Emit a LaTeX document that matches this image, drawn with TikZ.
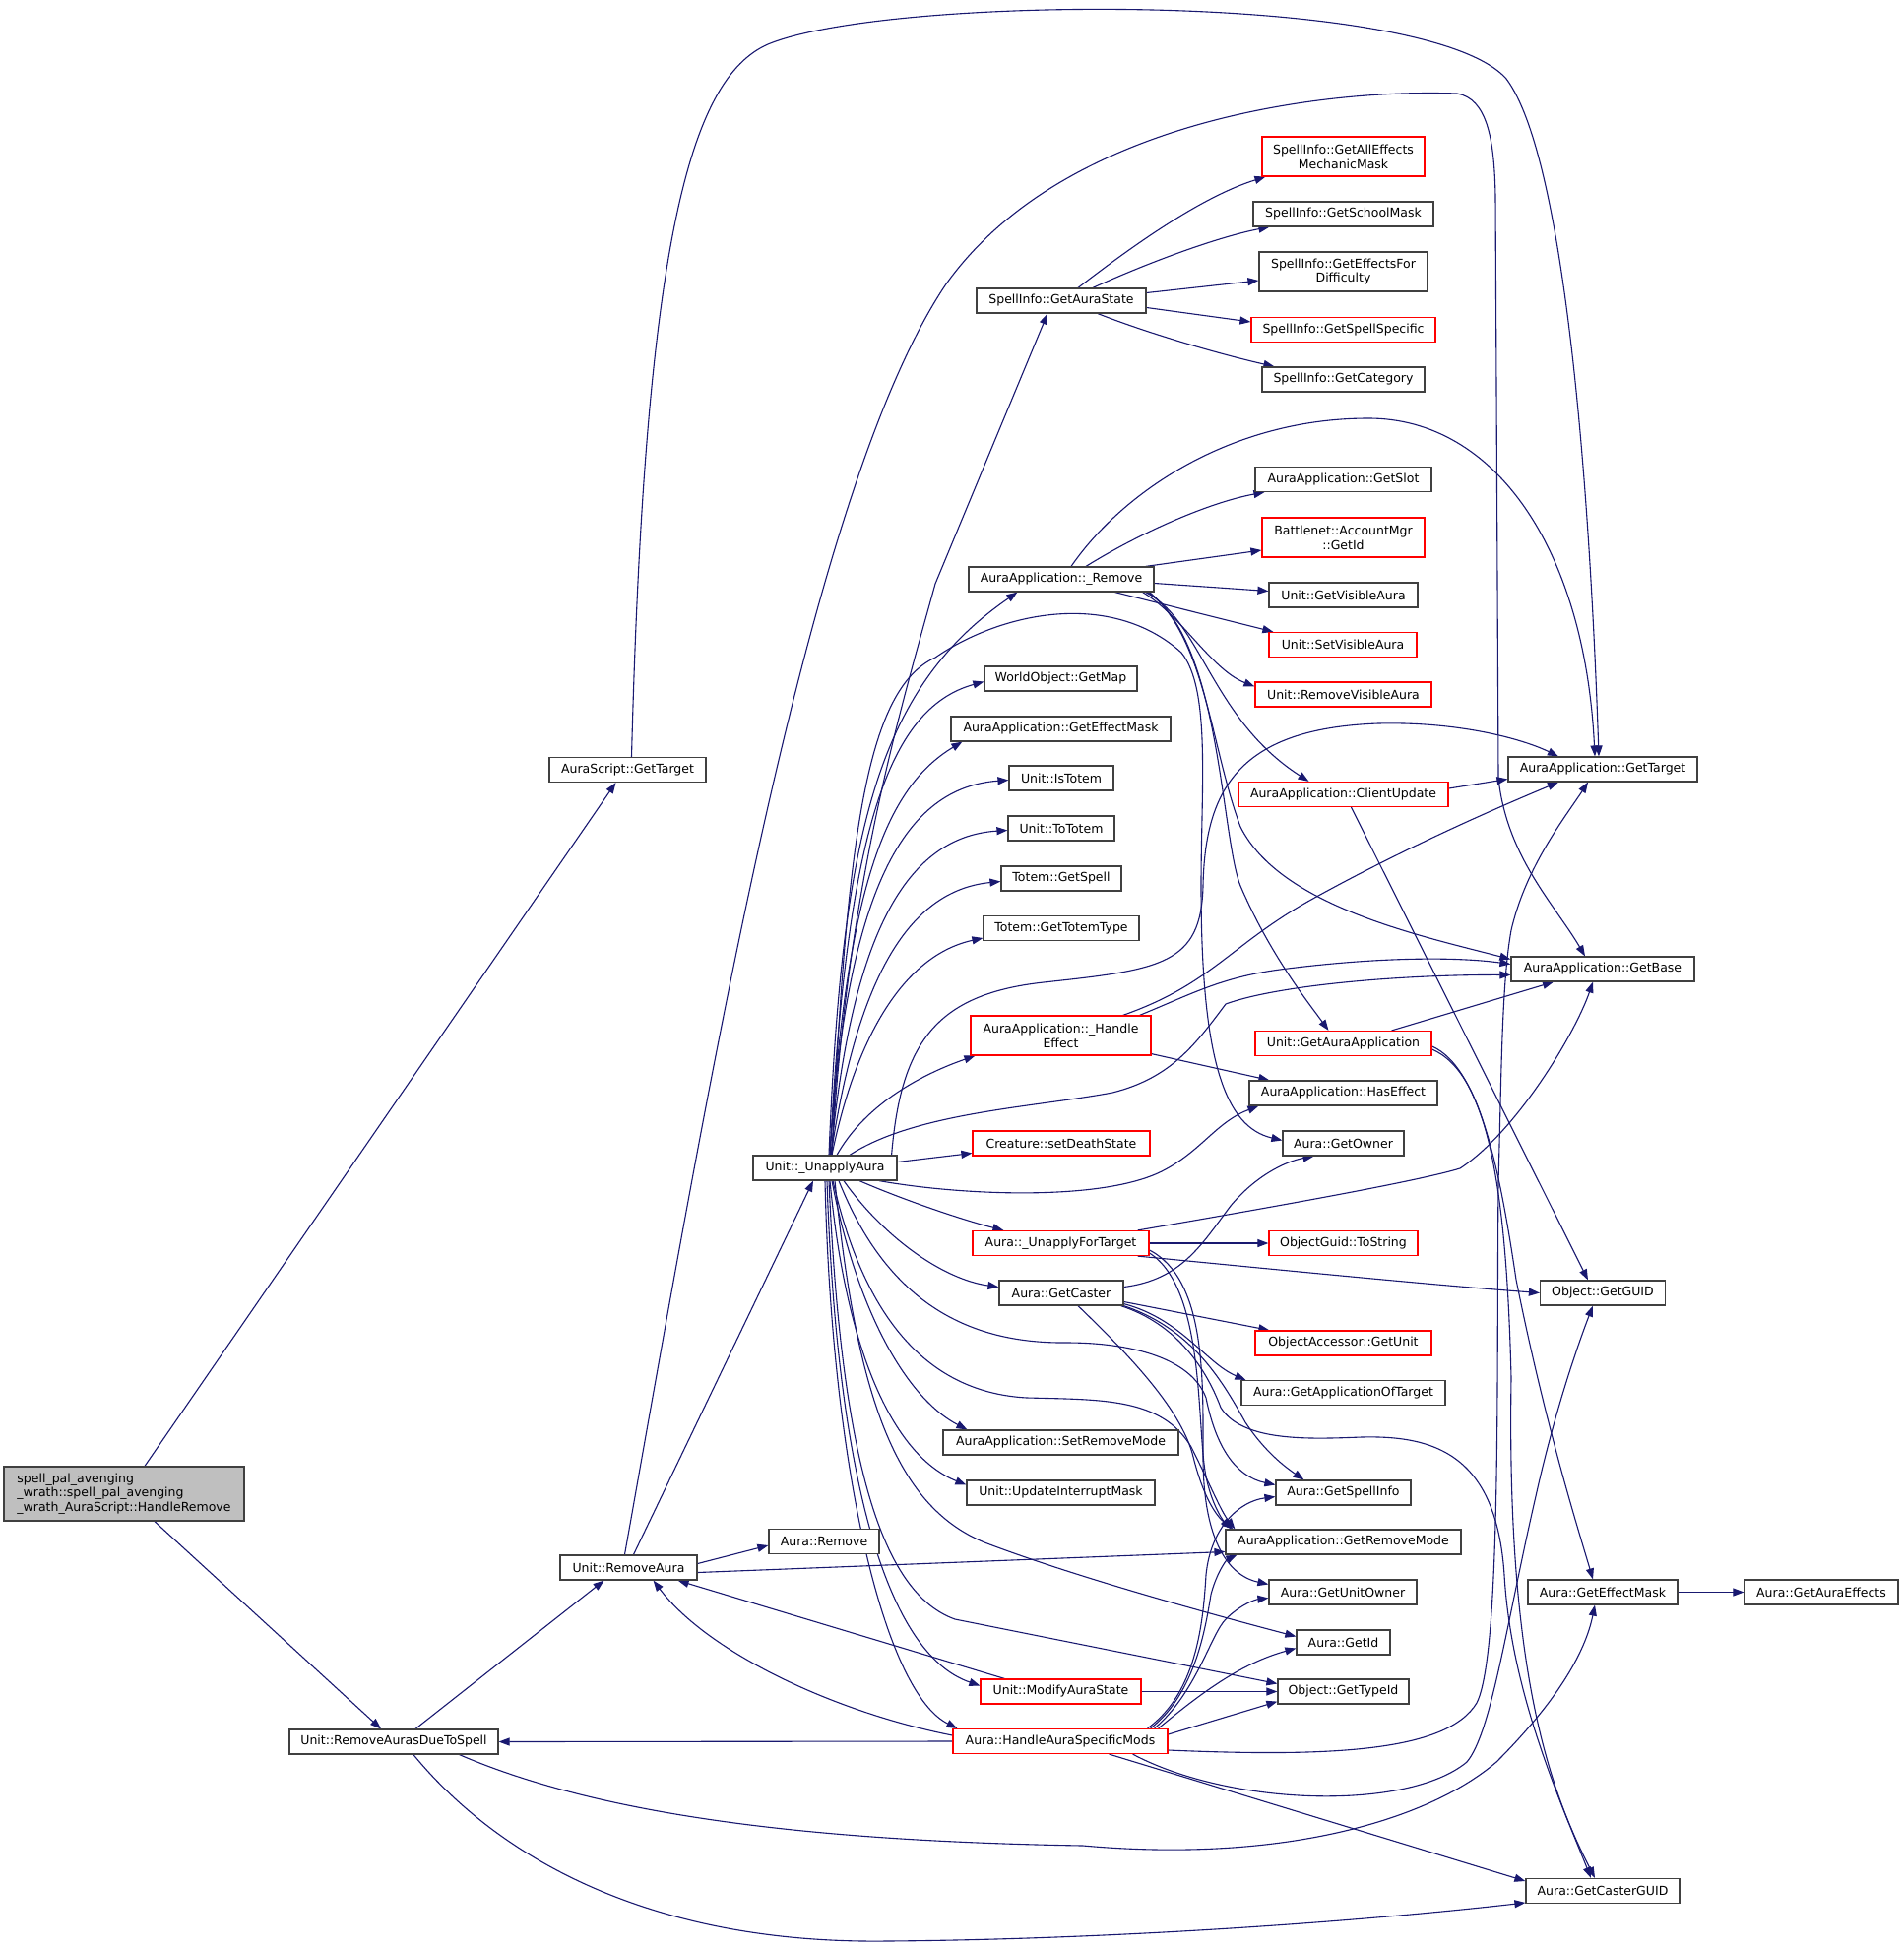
\documentclass[tikz,border=0pt]{standalone}
\usepackage{fontspec}
\newfontfamily\dvs{DejaVu Sans}
\usetikzlibrary{arrows.meta,calc}
\definecolor{edgec}{HTML}{191970}
\definecolor{boxgray}{HTML}{BFBFBF}
\definecolor{boxred}{HTML}{FF0000}
\definecolor{boxline}{HTML}{404040}
\pgfdeclarelayer{bg}
\pgfsetlayers{bg,main}
\tikzset{
  fn/.style={draw=boxline, line width=1.2pt, fill=white, inner sep=0pt, minimum height=25pt, font=\dvs\fontsize{12.5pt}{14.7pt}\selectfont, align=center},
  fnred/.style={fn, draw=boxred},
  bw/.style={minimum width=#1pt},
  two/.style={minimum height=40pt},
  link/.style={draw=edgec, line width=1.1pt, -{Triangle[length=11pt,width=8pt]}},
}
\begin{document}
\begin{tikzpicture}[x=1pt,y=-1pt]
\begin{pgfonlayer}{bg}
\fill[white] (0,0) rectangle (1933,1978);
\end{pgfonlayer}
\useasboundingbox (0,0) rectangle (1933,1978);

% ---- nodes
\node[fn, bw=244, minimum height=55pt, fill=boxgray, align=left, inner xsep=12pt] (main) at (126,1517.5) {spell\_pal\_avenging\\\_wrath::spell\_pal\_avenging\\\_wrath\_AuraScript::HandleRemove};
\node[fn, bw=212] (rads) at (400,1769.5) {Unit::RemoveAurasDueToSpell};
\node[fn, bw=159] (asgt) at (637.5,782) {AuraScript::GetTarget};
\node[fn, bw=139] (ra) at (638.5,1592.5) {Unit::RemoveAura};
\node[fn, bw=112] (arem) at (837,1566) {Aura::Remove};
\node[fn, bw=146] (ua) at (838,1186.5) {Unit::\_UnapplyAura};

\node[fn, bw=172] (gas) at (1078,305.5) {SpellInfo::GetAuraState};
\node[fn, bw=188] (arm) at (1078,588.5) {AuraApplication::\_Remove};
\node[fn, bw=155] (gmap) at (1077.5,689.5) {WorldObject::GetMap};
\node[fn, bw=223] (aaem) at (1077.5,740.5) {AuraApplication::GetEffectMask};
\node[fn, bw=106] (istot) at (1078,790.5) {Unit::IsTotem};
\node[fn, bw=108] (totot) at (1078,841.5) {Unit::ToTotem};
\node[fn, bw=122] (gspell) at (1078,892.5) {Totem::GetSpell};
\node[fn, bw=158] (gtt) at (1078,943) {Totem::GetTotemType};
\node[fnred, bw=183, two] (he) at (1077.5,1052) {AuraApplication::\_Handle\\Effect};
\node[fnred, bw=180] (cds) at (1078,1161.5) {Creature::setDeathState};
\node[fnred, bw=179] (uft) at (1077.5,1263) {Aura::\_UnapplyForTarget};
\node[fn, bw=126] (gc) at (1078,1313.5) {Aura::GetCaster};
\node[fn, bw=239] (srm) at (1077.5,1465.5) {AuraApplication::SetRemoveMode};
\node[fn, bw=191] (uim) at (1077.5,1516.5) {Unit::UpdateInterruptMask};
\node[fnred, bw=163] (mas) at (1077.5,1718.5) {Unit::ModifyAuraState};
\node[fnred, bw=218] (hasm) at (1077,1769) {Aura::HandleAuraSpecificMods};

\node[fnred, bw=165, two] (aem) at (1364.5,159) {SpellInfo::GetAllEffects\\MechanicMask};
\node[fn, bw=183] (gsm) at (1364.5,217.5) {SpellInfo::GetSchoolMask};
\node[fn, bw=171, two] (efd) at (1364.5,276) {SpellInfo::GetEffectsFor\\Difficulty};
\node[fnred, bw=187] (gss) at (1364.5,335) {SpellInfo::GetSpellSpecific};
\node[fn, bw=165] (gcat) at (1364.5,385.5) {SpellInfo::GetCategory};
\node[fn, bw=179] (gslot) at (1364.5,487) {AuraApplication::GetSlot};
\node[fnred, bw=165, two] (bnet) at (1364.5,546) {Battlenet::AccountMgr\\::GetId};
\node[fn, bw=151] (gva) at (1364.5,604.5) {Unit::GetVisibleAura};
\node[fnred, bw=150] (sva) at (1364,655) {Unit::SetVisibleAura};
\node[fnred, bw=179] (rva) at (1364.5,705.5) {Unit::RemoveVisibleAura};
\node[fnred, bw=213] (cu) at (1364.5,807) {AuraApplication::ClientUpdate};
\node[fnred, bw=179] (gaa) at (1364.5,1060) {Unit::GetAuraApplication};
\node[fn, bw=191] (hef) at (1364.5,1110.5) {AuraApplication::HasEffect};
\node[fn, bw=123] (gown) at (1364.5,1161.5) {Aura::GetOwner};
\node[fnred, bw=151] (tostr) at (1364.5,1263) {ObjectGuid::ToString};
\node[fnred, bw=179] (gunit) at (1364.5,1364.5) {ObjectAccessor::GetUnit};
\node[fn, bw=207] (gaot) at (1364.5,1415) {Aura::GetApplicationOfTarget};
\node[fn, bw=137] (gsi) at (1364.5,1516.5) {Aura::GetSpellInfo};
\node[fn, bw=239] (grm) at (1364.5,1566.5) {AuraApplication::GetRemoveMode};
\node[fn, bw=150] (guo) at (1364,1617.5) {Aura::GetUnitOwner};
\node[fn, bw=95] (gid) at (1364.5,1668.5) {Aura::GetId};
\node[fn, bw=133] (gtid) at (1364.5,1718.5) {Object::GetTypeId};

\node[fn, bw=192] (aagt) at (1628,781.5) {AuraApplication::GetTarget};
\node[fn, bw=186] (gbase) at (1628,984.5) {AuraApplication::GetBase};
\node[fn, bw=127] (guid) at (1628,1313.5) {Object::GetGUID};
\node[fn, bw=152] (gemask) at (1628,1617.5) {Aura::GetEffectMask};
\node[fn, bw=156] (ccguid) at (1628,1921) {Aura::GetCasterGUID};
\node[fn, bw=156] (gae) at (1850,1617.5) {Aura::GetAuraEffects};

% ---- connectors
\begin{pgfonlayer}{bg}
% main
\draw[link] ($(main.north)+(21,0)$) -- ($(asgt.south)+(-12,0)$);
\draw[link] ($(main.south)+(31,0)$) -- ($(rads.north)+(-13,0)$);
% AuraScript::GetTarget
\draw[link] ($(asgt.north)+(4,0)$) .. controls (655,250) and (700,80) .. (780,45) .. controls (900,-5) and (1450,-10) .. (1530,80) .. controls (1590,160) and (1615,500) .. ($(aagt.north)+(-4,0)$);
% RemoveAurasDueToSpell
\draw[link] ($(rads.north)+(22,0)$) -- ($(ra.south)+(-25,0)$);
\draw[link] ($(rads.south east)+(-40,0)$) .. controls (600,1840) and (800,1870) .. (1100,1875) .. controls (1300,1893) and (1450,1850) .. (1520,1790) .. controls (1580,1730) and (1610,1680) .. ($(gemask.south)+(-8,0)$);
\draw[link] ($(rads.south)+(20,0)$) .. controls (500,1880) and (650,1975) .. (900,1972) .. controls (1150,1970) and (1400,1950) .. ($(ccguid.west)+(0,12)$);
% RemoveAura
\draw[link] ($(ra.east)+(0,-4)$) -- ($(arem.west)+(0,4)$);
\draw[link] ($(ra.north)+(5,0)$) -- ($(ua.south)+(-12,0)$);
\draw[link] ($(ra.east)+(0,5)$) -- ($(grm.west)+(0,10)$);
\draw[link] ($(ra.north)+(-4,0)$) .. controls (720,1100) and (820,500) .. (960,290) .. controls (1080,120) and (1350,90) .. (1480,95) .. controls (1510,100) and (1518,140) .. (1519,200) -- (1522,790) .. controls (1530,870) and (1580,920) .. ($(gbase.north)+(-18,0)$);
% _UnapplyAura fan (top)
\draw[link] ($(ua.north)+(7,0)$) .. controls (860,900) and (915,720) .. (950,593) -- ($(gas.south)+(-14,0)$);
\draw[link] ($(ua.north)+(4,0)$) .. controls (855,850) and (890,700) .. ($(arm.south west)+(50,0)$);
\draw[link] ($(ua.north)+(5,0)$) .. controls (860,850) and (900,720) .. ($(gmap.west)+(0,3)$);
\draw[link] ($(ua.north)+(5,0)$) .. controls (860,900) and (900,800) .. ($(aaem.south west)+(12,0)$);
\draw[link] ($(ua.north)+(5,0)$) .. controls (860,900) and (920,800) .. ($(istot.west)+(0,2)$);
\draw[link] ($(ua.north)+(6,0)$) .. controls (865,950) and (920,850) .. ($(totot.west)+(0,2)$);
\draw[link] ($(ua.north)+(6,0)$) .. controls (870,1000) and (920,905) .. ($(gspell.west)+(0,3)$);
\draw[link] ($(ua.north)+(7,0)$) .. controls (870,1050) and (920,970) .. ($(gtt.west)+(0,10)$);
\draw[link] ($(ua.north)+(12,0)$) .. controls (880,1120) and (940,1090) .. ($(he.south west)+(5,0)$);
\draw[link] ($(ua.north)+(7,0)$) .. controls (860,850) and (880,700) .. (950,668) .. controls (1020,620) and (1130,600) .. (1200,663) .. controls (1230,700) and (1220,800) .. (1220,900) .. controls (1220,1080) and (1245,1145) .. ($(gown.west)+(0,-3)$);
\draw[link] ($(ua.north east)+(-6,0)$) .. controls (915,1060) and (950,1010) .. (1060,998) .. controls (1180,985) and (1220,980) .. (1222,900) .. controls (1224,800) and (1260,740) .. (1400,735) .. controls (1480,733) and (1545,750) .. ($(aagt.north)+(-45,0)$);
\draw[link] ($(ua.north)+(25,0)$) .. controls (930,1130) and (1050,1125) .. (1130,1110) .. controls (1190,1095) and (1215,1060) .. (1245,1020) .. controls (1300,1000) and (1430,990) .. ($(gbase.west)+(0,6)$);
% _UnapplyAura (side and bottom)
\draw[link] ($(ua.east)+(0,-6)$) -- ($(cds.west)+(0,10)$);
\draw[link] ($(ua.south)+(55,0)$) .. controls (980,1215) and (1120,1220) .. (1180,1190) .. controls (1220,1170) and (1235,1140) .. ($(hef.south west)+(10,0)$);
\draw[link] ($(ua.south)+(35,0)$) .. controls (920,1220) and (980,1240) .. ($(uft.north west)+(32,0)$);
\draw[link] ($(ua.south)+(19,0)$) .. controls (900,1260) and (960,1300) .. ($(gc.west)+(0,-6)$);
\draw[link] ($(ua.south)+(7,0)$) .. controls (870,1330) and (920,1420) .. ($(srm.north west)+(25,0)$);
\draw[link] ($(ua.south)+(5,0)$) .. controls (860,1380) and (910,1480) .. ($(uim.west)+(0,-8)$);
\draw[link] ($(ua.south)+(2,0)$) .. controls (850,1500) and (900,1680) .. ($(mas.west)+(0,-6)$);
\draw[link] ($(ua.south)+(0,0)$) .. controls (845,1500) and (900,1720) .. ($(hasm.north west)+(5,0)$);
\draw[link] ($(ua.south)+(10,0)$) .. controls (870,1420) and (910,1530) .. (1000,1567) .. controls (1100,1605) and (1250,1645) .. ($(gid.west)+(0,-6)$);
\draw[link] ($(ua.south)+(4,0)$) .. controls (855,1500) and (900,1620) .. (970,1645) -- ($(gtid.west)+(0,-8)$);
\draw[link] ($(ua.south)+(8,0)$) .. controls (880,1350) and (950,1415) .. (1043,1420) .. controls (1120,1422) and (1180,1420) .. (1210,1470) .. controls (1230,1510) and (1240,1535) .. ($(grm.north west)+(10,0)$);
\draw[link] ($(ua.south)+(14,0)$) .. controls (900,1320) and (980,1365) .. (1083,1364) .. controls (1150,1364) and (1210,1380) .. (1225,1420) .. controls (1235,1470) and (1255,1500) .. ($(gsi.west)+(0,-8)$);
% AuraApplication::_Remove
\draw[link] ($(arm.north)+(25,0)$) .. controls (1160,540) and (1230,510) .. ($(gslot.south west)+(10,0)$);
\draw[link] ($(arm.north east)+(-9,0)$) -- ($(bnet.west)+(0,13)$);
\draw[link] ($(arm.east)+(0,4)$) -- ($(gva.west)+(0,-4)$);
\draw[link] ($(arm.south east)+(-40,0)$) -- ($(sva.north west)+(5,0)$);
\draw[link] ($(arm.south east)+(-12,0)$) .. controls (1200,625) and (1230,680) .. ($(rva.west)+(0,-8)$);
\draw[link] ($(arm.south east)+(-9,0)$) .. controls (1220,630) and (1230,730) .. ($(cu.north)+(-35,0)$);
\draw[link] ($(arm.south east)+(-7,0)$) .. controls (1240,650) and (1240,850) .. (1260,900) .. controls (1290,970) and (1330,1020) .. ($(gaa.north)+(-15,0)$);
\draw[link] ($(arm.south east)+(-5,0)$) .. controls (1225,650) and (1230,760) .. (1260,840) .. controls (1300,920) and (1440,950) .. ($(gbase.west)+(0,-10)$);
\draw[link] ($(arm.north)+(10,0)$) .. controls (1140,500) and (1250,425) .. (1390,425) .. controls (1520,425) and (1610,560) .. ($(aagt.north)+(-8,0)$);
% SpellInfo::GetAuraState
\draw[link] ($(gas.north)+(17,0)$) .. controls (1150,250) and (1220,200) .. ($(aem.south west)+(4,0)$);
\draw[link] ($(gas.north)+(32,0)$) .. controls (1170,265) and (1240,240) .. ($(gsm.south west)+(17,0)$);
\draw[link] ($(gas.east)+(0,-8)$) -- ($(efd.west)+(0,9)$);
\draw[link] ($(gas.east)+(0,7)$) -- ($(gss.west)+(0,-8)$);
\draw[link] ($(gas.south)+(37,0)$) .. controls (1170,340) and (1240,360) .. ($(gcat.north west)+(13,0)$);
% AuraApplication::_HandleEffect
\draw[link] ($(he.north east)+(-29,0)$) .. controls (1230,1000) and (1250,960) .. (1330,915) .. controls (1420,865) and (1510,825) .. ($(aagt.south)+(-45,0)$);
\draw[link] ($(he.north east)+(-12,0)$) .. controls (1210,1010) and (1240,993) .. (1300,985) .. controls (1400,972) and (1480,972) .. ($(gbase.west)+(0,-5)$);
\draw[link] ($(he.south east)+(0,-2)$) -- ($(hef.north west)+(21,0)$);
% Aura::_UnapplyForTarget
\draw[link] (uft.east) -- (tostr.west);
\draw[link] ($(uft.south east)+(-12,0)$) .. controls (1300,1290) and (1450,1305) .. (guid.west);
\draw[link] ($(uft.north east)+(-12,0)$) .. controls (1300,1225) and (1440,1200) .. (1483,1187) .. controls (1540,1150) and (1600,1050) .. ($(gbase.south)+(-10,0)$);
\draw[link] ($(uft.east)+(0,7)$) .. controls (1225,1300) and (1222,1400) .. (1222,1480) .. controls (1222,1560) and (1245,1600) .. ($(guo.west)+(0,-8)$);
\draw[link] ($(uft.east)+(0,10)$) .. controls (1225,1310) and (1215,1450) .. (1225,1500) .. controls (1230,1525) and (1240,1542) .. ($(grm.north west)+(6,0)$);
% Aura::GetCaster
\draw[link] ($(gc.east)+(0,-6)$) .. controls (1200,1300) and (1220,1265) .. (1250,1225) .. controls (1275,1195) and (1305,1180) .. ($(gown.south)+(-30,0)$);
\draw[link] ($(gc.east)+(0,9)$) -- ($(gunit.north west)+(15,0)$);
\draw[link] ($(gc.south east)+(0,-2)$) .. controls (1200,1340) and (1225,1385) .. ($(gaot.north west)+(5,0)$);
\draw[link] (gc.south east) .. controls (1210,1350) and (1240,1400) .. (1265,1445) .. controls (1285,1475) and (1305,1490) .. ($(gsi.north)+(-40,0)$);
\draw[link] ($(gc.south)+(17,0)$) .. controls (1140,1370) and (1200,1430) .. (1212,1480) .. controls (1222,1520) and (1235,1540) .. ($(grm.north west)+(8,0)$);
\draw[link] ($(gc.south east)+(-3,0)$) .. controls (1195,1345) and (1225,1390) .. (1240,1430) .. controls (1262,1465) and (1330,1462) .. (1383,1460) .. controls (1460,1458) and (1520,1480) .. (1528,1600) .. controls (1535,1720) and (1585,1830) .. ($(ccguid.north)+(-12,0)$);
% Unit::ModifyAuraState
\draw[link] ($(mas.north west)+(25,0)$) -- ($(ra.south east)+(-20,0)$);
\draw[link] (mas.east) -- (gtid.west);
% Aura::HandleAuraSpecificMods
\draw[link] (hasm.west) -- (rads.east);
\draw[link] ($(hasm.west)+(0,-6)$) .. controls (850,1740) and (720,1680) .. ($(ra.south east)+(-45,0)$);
\draw[link] ($(hasm.north east)+(-21,0)$) .. controls (1215,1720) and (1222,1650) .. (1225,1600) .. controls (1230,1550) and (1260,1525) .. ($(gsi.west)+(0,4)$);
\draw[link] ($(hasm.north east)+(-18,0)$) .. controls (1215,1720) and (1225,1650) .. (1230,1620) .. controls (1235,1600) and (1245,1585) .. ($(grm.south west)+(12,0)$);
\draw[link] ($(hasm.north east)+(-14,0)$) .. controls (1215,1720) and (1230,1660) .. (1245,1645) .. controls (1260,1630) and (1275,1625) .. ($(guo.west)+(0,6)$);
\draw[link] ($(hasm.north east)+(-10,0)$) .. controls (1220,1720) and (1260,1690) .. ($(gid.west)+(0,6)$);
\draw[link] ($(hasm.east)+(0,-7)$) -- ($(gtid.south west)+(0,-3)$);
\draw[link] ($(hasm.east)+(0,9)$) .. controls (1350,1785) and (1470,1780) .. (1500,1730) .. controls (1525,1680) and (1520,1400) .. (1522,1200) .. controls (1525,1100) and (1525,1000) .. (1535,945) .. controls (1550,880) and (1590,830) .. ($(aagt.south)+(-15,0)$);
\draw[link] ($(hasm.south east)+(-36,0)$) .. controls (1250,1835) and (1430,1840) .. (1490,1790) .. controls (1515,1760) and (1530,1650) .. (1560,1520) .. controls (1580,1430) and (1605,1360) .. ($(guid.south)+(-10,0)$);
\draw[link] ($(hasm.south east)+(-60,0)$) -- ($(ccguid.west)+(0,-10)$);
% Unit::GetAuraApplication
\draw[link] ($(gaa.north east)+(-41,0)$) -- ($(gbase.south)+(-50,0)$);
\draw[link] ($(gaa.east)+(0,3)$) .. controls (1505,1085) and (1525,1200) .. (1540,1300) .. controls (1570,1450) and (1605,1560) .. ($(gemask.north)+(-10,0)$);
\draw[link] ($(gaa.east)+(0,6)$) .. controls (1510,1090) and (1530,1200) .. (1535,1400) .. controls (1530,1700) and (1575,1820) .. ($(ccguid.north)+(-8,0)$);
% AuraApplication::ClientUpdate
\draw[link] ($(cu.east)+(0,-6)$) -- ($(aagt.west)+(0,10)$);
\draw[link] ($(cu.south)+(8,0)$) -- ($(guid.north)+(-15,0)$);
% Aura::GetEffectMask
\draw[link] (gemask.east) -- (gae.west);
\end{pgfonlayer}
\end{tikzpicture}
\end{document}
